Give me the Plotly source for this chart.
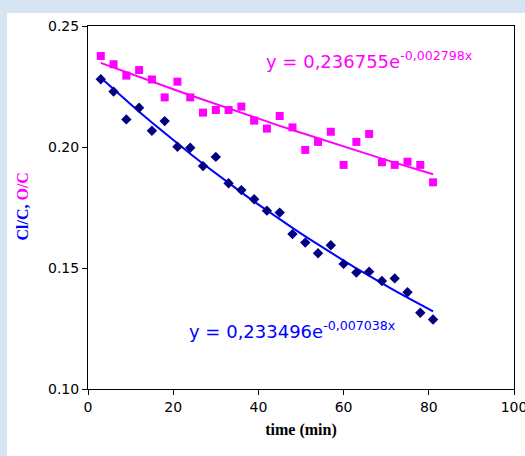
import numpy as np
import plotly.graph_objects as go

# Sampling times (min)
time_min = [3, 6, 9, 12, 15, 18, 21, 24, 27, 30, 33, 36, 39, 42,
            45, 48, 51, 54, 57, 60, 63, 66, 69, 72, 75, 78, 81]

# O/C ratio (magenta squares)
o_c = [0.2376, 0.2342, 0.2295, 0.2318, 0.2279, 0.2205, 0.2270, 0.2205,
       0.2142, 0.2153, 0.2153, 0.2167, 0.2109, 0.2076, 0.2128, 0.2081,
       0.1988, 0.2021, 0.2063, 0.1926, 0.2021, 0.2054, 0.1937, 0.1926,
       0.1939, 0.1926, 0.1854]

# Cl/C ratio (navy diamonds)
cl_c = [0.2280, 0.2229, 0.2114, 0.2162, 0.2067, 0.2107, 0.2001, 0.1997,
        0.1921, 0.1959, 0.1850, 0.1822, 0.1784, 0.1737, 0.1729, 0.1640,
        0.1605, 0.1561, 0.1594, 0.1517, 0.1481, 0.1485, 0.1446, 0.1457,
        0.1400, 0.1315, 0.1287]

# Exponential trendline parameters y = a * exp(b * x)
o_c_a, o_c_b = 0.236755, -0.002798
cl_c_a, cl_c_b = 0.233496, -0.007038

x_ticks = [0, 20, 40, 60, 80, 100]
y_ticks = [0.10, 0.15, 0.20, 0.25]

MAGENTA = "#FF00FF"
BLUE = "#0000FF"
NAVY = "#000080"

t = np.array(time_min, dtype=float)
o_c_fit = o_c_a * np.exp(o_c_b * t)
cl_c_fit = cl_c_a * np.exp(cl_c_b * t)

fig = go.Figure()

fig.add_trace(go.Scatter(x=t, y=o_c_fit, mode="lines",
                         line=dict(color=MAGENTA, width=2), hoverinfo="skip"))
fig.add_trace(go.Scatter(x=t, y=cl_c_fit, mode="lines",
                         line=dict(color=BLUE, width=2), hoverinfo="skip"))
fig.add_trace(go.Scatter(x=time_min, y=o_c, mode="markers",
                         marker=dict(symbol="square", size=8, color=MAGENTA,
                                     line=dict(width=0))))
fig.add_trace(go.Scatter(x=time_min, y=cl_c, mode="markers",
                         marker=dict(symbol="diamond", size=8, color=NAVY,
                                     line=dict(width=0))))

def eq_text(a, b):
    return ("y = " + f"{a:.6f}".replace(".", ",") + "e<sup>"
            + f"{b:.6f}".replace(".", ",") + "x</sup>")

fig.add_annotation(x=41.2, y=0.2358, xref="x", yref="y", xanchor="left",
                   yanchor="middle", showarrow=False,
                   text=eq_text(o_c_a, o_c_b),
                   font=dict(family="DejaVu Sans", size=18, color=MAGENTA))
fig.add_annotation(x=23.2, y=0.1242, xref="x", yref="y", xanchor="left",
                   yanchor="middle", showarrow=False,
                   text=eq_text(cl_c_a, cl_c_b),
                   font=dict(family="DejaVu Sans", size=18, color=BLUE))

# Vertical two-colour axis title
fig.add_annotation(x=-77 / 426.3, y=(389 - 207) / 363, xref="paper",
                   yref="paper", showarrow=False, textangle=-90,
                   text=(f"<span style='color:{BLUE}'><b>Cl/C,</b></span> "
                         f"<span style='color:{MAGENTA}'><b>O/C</b></span>"),
                   font=dict(family="Liberation Serif", size=16, weight=700))

# White panel over the light-blue page background
fig.add_shape(type="rect", xref="paper", yref="paper",
              x0=-81 / 426.3, x1=1.2, y0=-0.3, y1=1 + 13 / 363,
              fillcolor="white", line=dict(width=0), layer="below")

fig.update_layout(
    width=525, height=456,
    margin=dict(l=88, r=11, t=26, b=67, autoexpand=False),
    paper_bgcolor="#d7e5f3",
    plot_bgcolor="white",
    showlegend=False,
    font=dict(family="DejaVu Sans", size=14, color="black"),
    xaxis=dict(range=[0, 100], tickvals=x_ticks, ticks="outside", ticklen=5,
               tickcolor="black", showgrid=False, zeroline=False,
               ticklabeloverflow="allow", automargin=False,
               showline=True, linecolor="black", linewidth=1, mirror=True,
               title=dict(text="<b>time (min)</b>", standoff=10,
                          font=dict(family="Liberation Serif", size=16))),
    yaxis=dict(range=[0.10, 0.25], tickvals=y_ticks, tickformat=".2f",
               ticks="outside", ticklen=5, tickcolor="black", showgrid=False,
               zeroline=False, showline=True, linecolor="black", linewidth=1,
               mirror=True, automargin=False),
)

fig.write_html("out.html")
